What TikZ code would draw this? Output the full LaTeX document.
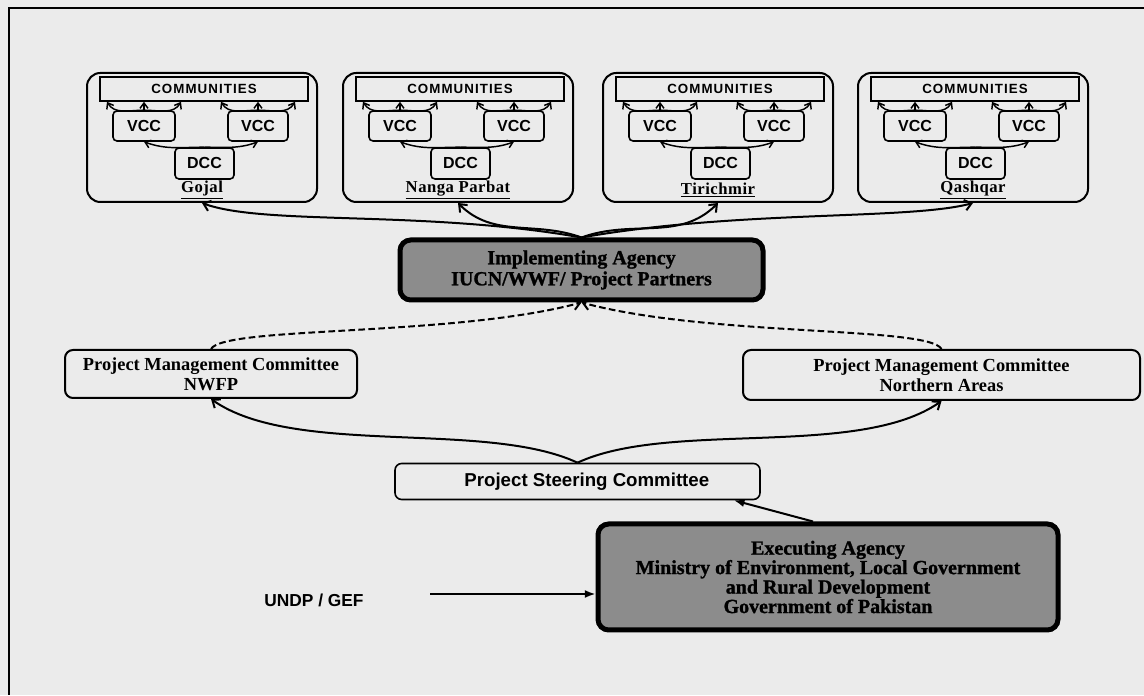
\documentclass[tikz,border=0pt]{standalone}
\usepackage{fontspec}
\setmainfont{Liberation Serif}
\newfontfamily\sansf{Liberation Sans}
\newfontfamily\commf[LetterSpace=8]{Liberation Sans}
\newfontfamily\labf[LetterSpace=3]{Liberation Serif}
\newfontfamily\heavyf[BoldFeatures={FakeBold=1.2}]{Liberation Serif}
\usetikzlibrary{arrows.meta,calc}
\definecolor{paper}{HTML}{EBEBEB}
\definecolor{agencyfill}{HTML}{8C8C8C}
\tikzset{
  frameline/.style={line width=1.5pt},
  grpbox/.style={draw, line width=1.5pt, rounded corners=10pt, minimum width=172.5pt, minimum height=96.75pt, inner sep=0pt},
  combox/.style={draw, line width=1.2pt, minimum width=156pt, minimum height=18pt, inner sep=0pt, font=\commf\bfseries\fontsize{10}{11}\selectfont},
  cbox/.style={draw, line width=1.2pt, rounded corners=3pt, minimum height=22.5pt, inner sep=0pt, font=\sansf\bfseries\fontsize{12}{14}\selectfont},
  grplabel/.style={inner sep=0pt, font=\labf\bfseries\fontsize{12.5}{13}\selectfont},
  agency/.style={draw, line width=3.75pt, rounded corners=8pt, fill=agencyfill, align=center, inner sep=0pt},
  pmcbox/.style={draw, line width=1.5pt, rounded corners=6pt, align=center, inner sep=0pt, font=\bfseries\fontsize{13.8}{15}\selectfont},
  pscbox/.style={draw, line width=1.2pt, rounded corners=5pt, inner sep=0pt, font=\sansf\bfseries\fontsize{14}{16}\selectfont},
  barb/.style={-{Straight Barb[length=4pt,width=6pt]}, line width=1.1pt},
  curvearrow/.style={-{Straight Barb[length=5pt,width=8pt]}, line width=1.5pt},
  dasharrow/.style={-{Straight Barb[length=5pt,width=8pt]}, line width=1.5pt, dash pattern=on 5pt off 2.5pt},
  conn/.style={-{Latex[length=8pt,width=6pt]}, line width=1.5pt},
}
\begin{document}
\begin{tikzpicture}[x=0.75pt,y=0.75pt]
\fill[paper] (0,0) rectangle (1144,695);
\useasboundingbox (0,0) rectangle (1144,695);
\draw[frameline] (1144,687) -- (9,687) -- (9,0);

\foreach \L/\lab/\n in {87/Gojal/1, 343/Nanga Parbat/2, 603/Tirichmir/3, 858/Qashqar/4}{
  \node[grpbox] (g\n) at (\L+115,557.5) {};
  \node[combox] (c\n) at (\L+117,606) {COMMUNITIES};
  \node[cbox, minimum width=46.5pt] (vl\n) at (\L+57,569) {VCC};
  \node[cbox, minimum width=45pt] (vr\n) at (\L+171,569) {VCC};
  \node[cbox, minimum width=44.25pt, minimum height=23.25pt] (d\n) at (\L+117.5,531.5) {DCC};
  \node[grplabel] (t\n) at (\L+115,505) {\underline{\lab}};
  \foreach \v in {vl\n, vr\n}{
    \draw[barb] (\v.north) -- (\v.north |- c\n.south);
    \draw[barb] (\v.north) to[out=180,in=-60] ($(\v.north |- c\n.south)+(-37,0)$);
    \draw[barb] (\v.north) to[out=0,in=240] ($(\v.north |- c\n.south)+(37,0)$);
  }
  \draw[barb] (d\n.north) to[out=180,in=-20] (vl\n.south);
  \draw[barb] (d\n.north) to[out=0,in=200] (vr\n.south);
}

\node[agency, minimum width=272.25pt, minimum height=45pt, font=\heavyf\bfseries\fontsize{15}{15.75}\selectfont] (ia) at (581.5,425)
  {Implementing Agency\\IUCN/WWF/ Project Partners};

\node[pmcbox, minimum width=219pt, minimum height=36pt] (pmcl) at (211,321)
  {Project Management Committee\\NWFP};
\node[pmcbox, minimum width=297.75pt, minimum height=37.5pt] (pmcr) at (941.5,320)
  {Project Management Committee\\Northern Areas};

\node[pscbox, minimum width=273.75pt, minimum height=27pt] (psc) at (577.5,213.5)
  {\hspace*{14pt}Project Steering Committee};

\node[agency, minimum width=345pt, minimum height=79.5pt, font=\heavyf\bfseries\fontsize{15}{14.6}\selectfont] (ea) at (828,118)
  {Executing Agency\\Ministry of Environment, Local Government\\and Rural Development\\Government of Pakistan};

\node[inner sep=0pt, font=\sansf\bfseries\fontsize{13}{15}\selectfont] (undp) at (314,95) {UNDP / GEF};

% IA to conservancies
\draw[curvearrow] (ia.north) to[out=170,in=-20,out distance=120pt,in distance=50pt] (g1.south);
\draw[curvearrow] (ia.north) to[out=160,in=-45] (g2.south);
\draw[curvearrow] (ia.north) to[out=20,in=225] (g3.south);
\draw[curvearrow] (ia.north) to[out=10,in=195,out distance=120pt,in distance=50pt] (g4.south);

% PMC to IA (dashed)
\draw[dasharrow] (pmcl.north) to[out=60,in=195,out distance=20pt,in distance=100pt] (ia.south);
\draw[dasharrow] (pmcr.north) to[out=120,in=-15,out distance=20pt,in distance=100pt] (ia.south);

% PSC to PMCs
\draw[curvearrow] (psc.north) to[out=155,in=-35,looseness=0.7] (pmcl.south);
\draw[curvearrow] (psc.north) to[out=25,in=215,looseness=0.7] (pmcr.south);

% EA to PSC
\draw[conn] ([xshift=-11.25pt]ea.north) -- ([xshift=-20.25pt]psc.south east);

% UNDP to EA
\coordinate (ua) at (430,101);
\draw[conn] (ua) -- (ua -| ea.west);
\end{tikzpicture}
\end{document}
